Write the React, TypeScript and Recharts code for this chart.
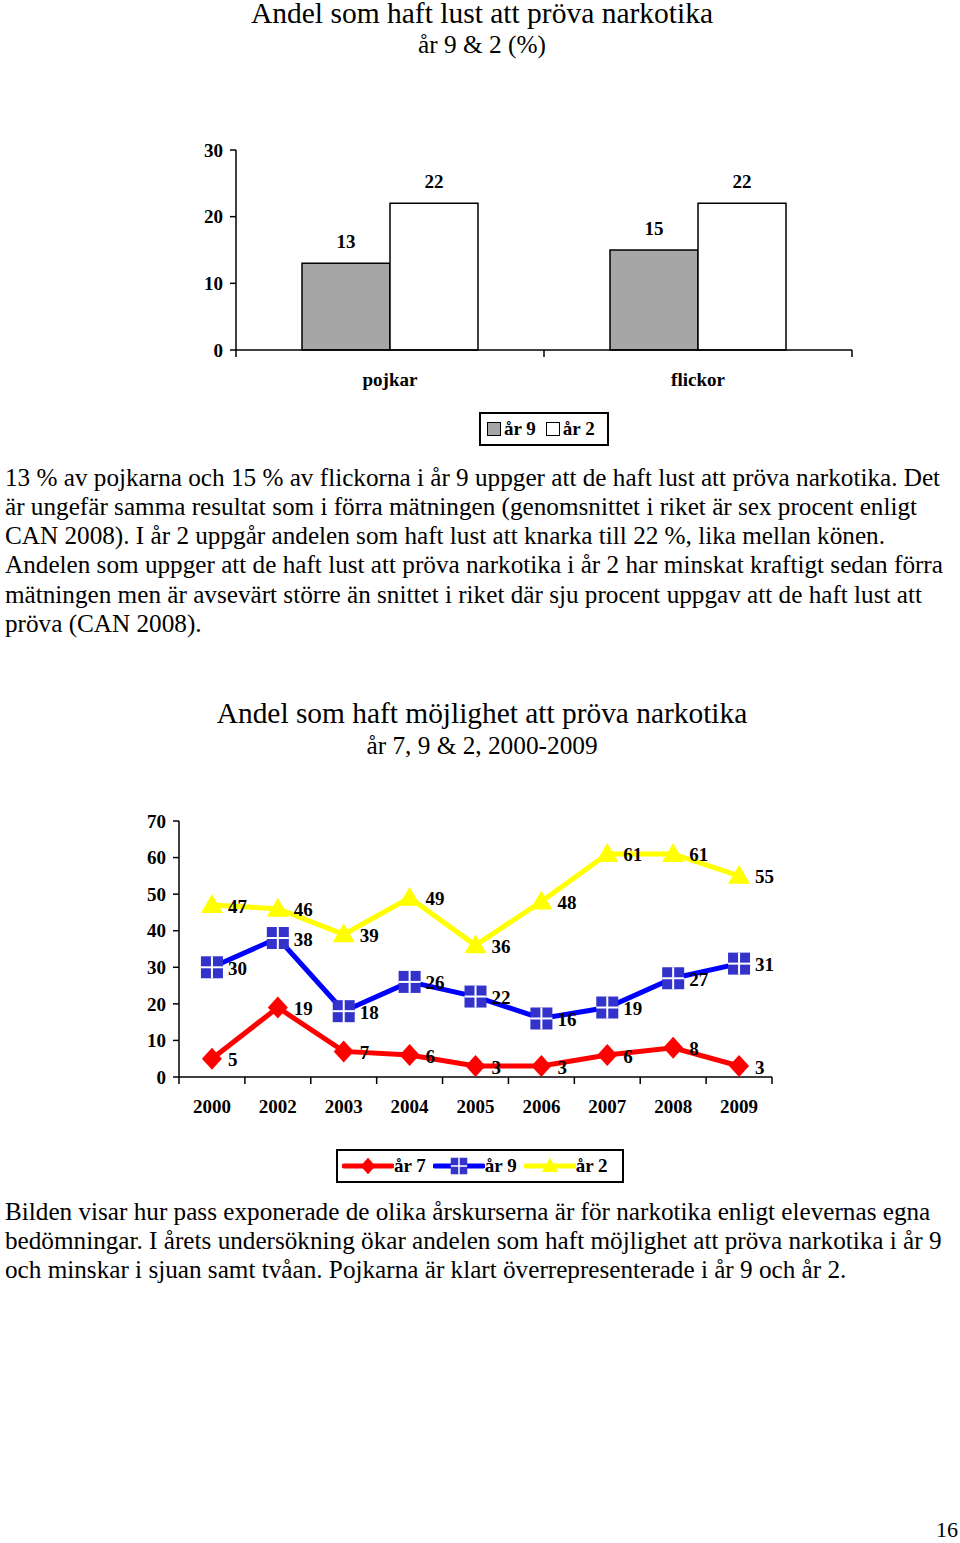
import React from 'react';
import { BarChart, Bar, LineChart, Line, XAxis, YAxis, LabelList } from 'recharts';

// --- chart 1: lust att pröva narkotika (%)
const genders = ['pojkar', 'flickor'];
const ar9Lust = [13, 15];
const ar2Lust = [22, 22];
const lustTicks = [0, 10, 20, 30];

// --- chart 2: möjlighet att pröva narkotika (%)
const years = ['2000', '2002', '2003', '2004', '2005', '2006', '2007', '2008', '2009'];
const ar7Mojlighet = [5, 19, 7, 6, 3, 3, 6, 8, 3];
const ar9Mojlighet = [30, 38, 18, 26, 22, 16, 19, 27, 31];
const ar2Mojlighet = [47, 46, 39, 49, 36, 48, 61, 61, 55];
const mojlighetTicks = [0, 10, 20, 30, 40, 50, 60, 70];

const para1 = [
  '13 % av pojkarna och 15 % av flickorna i år 9 uppger att de haft lust att pröva narkotika. Det',
  'är ungefär samma resultat som i förra mätningen (genomsnittet i riket är sex procent enligt',
  'CAN 2008). I år 2 uppgår andelen som haft lust att knarka till 22 %, lika mellan könen.',
  'Andelen som uppger att de haft lust att pröva narkotika i år 2 har minskat kraftigt sedan förra',
  'mätningen men är avsevärt större än snittet i riket där sju procent uppgav att de haft lust att',
  'pröva (CAN 2008).',
];
const para2 = [
  'Bilden visar hur pass exponerade de olika årskurserna är för narkotika enligt elevernas egna',
  'bedömningar. I årets undersökning ökar andelen som haft möjlighet att pröva narkotika i år 9',
  'och minskar i sjuan samt tvåan. Pojkarna är klart överrepresenterade i år 9 och år 2.',
];

const lustData = genders.map((g, i) => ({ name: g, ar9: ar9Lust[i], ar2: ar2Lust[i] }));
const mojlighetData = years.map((y, i) => ({
  name: y,
  ar7: ar7Mojlighet[i],
  ar9: ar9Mojlighet[i],
  ar2: ar2Mojlighet[i],
}));

const serif = '"Liberation Serif", "Times New Roman", serif';
const GREY = '#a6a6a6';
const RED = '#ff0000';
const BLUE = '#0000ff';
const MARK_BLUE = '#3333cc';
const YELLOW = '#ffff00';

const tickFont = { fontFamily: serif, fontWeight: 'bold' as const, fontSize: 19, fill: '#000' };

function makeBoundaryTick(count: number, fallbackHalf: number) {
  return (props: any) => {
    const { x, y, payload, index } = props;
    const half = payload && payload.offset ? payload.offset : fallbackHalf;
    return (
      <g>
        <line x1={x - half} y1={y} x2={x - half} y2={y + 7} stroke="#000" strokeWidth={1.5} />
        {index === count - 1 && (
          <line x1={x + half} y1={y} x2={x + half} y2={y + 7} stroke="#000" strokeWidth={1.5} />
        )}
        <text x={x} y={y + 29} textAnchor="middle" dominantBaseline="central" {...tickFont}>
          {payload.value}
        </text>
      </g>
    );
  };
}

const Diamond = (props: any) => {
  const { cx, cy, index } = props;
  if (cx == null || cy == null) return <g key={'d' + index} />;
  return (
    <path
      key={'d' + index}
      d={`M${cx},${cy - 11}L${cx + 10},${cy}L${cx},${cy + 11}L${cx - 10},${cy}Z`}
      fill={RED}
    />
  );
};

const CrossSquare = (props: any) => {
  const { cx, cy, index } = props;
  if (cx == null || cy == null) return <g key={'s' + index} />;
  return (
    <g key={'s' + index}>
      <rect x={cx - 11} y={cy - 11} width={22} height={22} fill={MARK_BLUE} />
      <line x1={cx - 11} y1={cy} x2={cx + 11} y2={cy} stroke="#fff" strokeWidth={2} />
      <line x1={cx} y1={cy - 11} x2={cx} y2={cy + 11} stroke="#fff" strokeWidth={2} />
    </g>
  );
};

const Triangle = (props: any) => {
  const { cx, cy, index } = props;
  if (cx == null || cy == null) return <g key={'t' + index} />;
  return (
    <path
      key={'t' + index}
      d={`M${cx},${cy - 11}L${cx + 11},${cy + 8}L${cx - 11},${cy + 8}Z`}
      fill={YELLOW}
    />
  );
};

const lineLabel = (props: any) => {
  const vb = props.viewBox || {};
  const x = props.x != null ? props.x : vb.x;
  const y = props.y != null ? props.y : vb.y;
  if (x == null || y == null) return null;
  return (
    <text x={x + 16} y={y + 1} textAnchor="start" dominantBaseline="central" {...tickFont}>
      {props.value}
    </text>
  );
};

// text line placed by its baseline
function Txt({ base, size, children, left = 5, center = false }: any) {
  return (
    <div
      style={{
        position: 'absolute',
        top: base - 0.7375 * size,
        left: center ? 2 : left,
        width: center ? 960 : undefined,
        textAlign: center ? 'center' : 'left',
        fontFamily: serif,
        fontSize: size,
        lineHeight: `${0.8 * size}px`,
        whiteSpace: 'nowrap',
        color: '#000',
      }}
    >
      {children}
    </div>
  );
}

function LustLegend() {
  const items = [
    { label: 'år 9', fill: GREY },
    { label: 'år 2', fill: '#fff' },
  ];
  return (
    <div
      style={{
        position: 'absolute',
        left: 479,
        top: 412,
        width: 120,
        height: 30,
        border: '2px solid #000',
        display: 'flex',
        alignItems: 'center',
        paddingLeft: 6,
        boxSizing: 'content-box',
      }}
    >
      {items.map((it) => (
        <div key={it.label} style={{ display: 'flex', alignItems: 'center', marginRight: 10 }}>
          <div style={{ width: 12, height: 12, background: it.fill, border: '1.5px solid #000', marginRight: 3 }} />
          <span style={{ fontFamily: serif, fontWeight: 'bold', fontSize: 19 }}>{it.label}</span>
        </div>
      ))}
    </div>
  );
}

function MojlighetLegend() {
  const items = [
    { label: 'år 7', color: RED, Mark: Diamond },
    { label: 'år 9', color: BLUE, Mark: CrossSquare },
    { label: 'år 2', color: YELLOW, Mark: Triangle },
  ];
  return (
    <div
      style={{
        position: 'absolute',
        left: 336,
        top: 1149,
        width: 280,
        height: 30,
        border: '2px solid #000',
        display: 'flex',
        alignItems: 'center',
        paddingLeft: 4,
        boxSizing: 'content-box',
      }}
    >
      {items.map((it, i) => (
        <div key={it.label} style={{ display: 'flex', alignItems: 'center', marginRight: 7 }}>
          <svg width={52} height={20} style={{ display: 'block' }}>
            <line x1={2} y1={10} x2={50} y2={10} stroke={it.color} strokeWidth={5} strokeLinecap="round" />
            <g transform="translate(26,10) scale(0.75) translate(-26,-10)">
              <it.Mark cx={26} cy={10} index={i} />
            </g>
          </svg>
          <span style={{ fontFamily: serif, fontWeight: 'bold', fontSize: 19 }}>{it.label}</span>
        </div>
      ))}
    </div>
  );
}

export default function App() {
  return (
    <div style={{ position: 'absolute', left: 0, top: 0, width: 960, height: 1543, background: '#fff', overflow: 'hidden' }}>
      <Txt base={23.5} size={29.5} center>Andel som haft lust att pröva narkotika</Txt>
      <Txt base={52.5} size={25.3} center>år 9 &amp; 2 (%)</Txt>

      <div style={{ position: 'absolute', left: 0, top: 120 }}>
        <BarChart
          width={960}
          height={280}
          data={lustData}
          margin={{ top: 30, right: 108, bottom: 20, left: 196 }}
          barGap={0}
        >
          <XAxis
            dataKey="name"
            height={30}
            interval={0}
            tickSize={0}
            tickMargin={0}
            tickLine={false}
            axisLine={{ stroke: '#000', strokeWidth: 1.5 }}
            tick={makeBoundaryTick(genders.length, 154)}
          />
          <YAxis
            width={40}
            domain={[0, 30]}
            ticks={lustTicks}
            interval={0}
            tickSize={6}
            tickMargin={7}
            axisLine={{ stroke: '#000', strokeWidth: 1.5 }}
            tickLine={{ stroke: '#000', strokeWidth: 1.5 }}
            tick={tickFont}
          />
          <Bar dataKey="ar9" barSize={88} fill={GREY} stroke="#000" strokeWidth={1.5} isAnimationActive={false}>
            <LabelList dataKey="ar9" position="top" offset={15} style={tickFont} />
          </Bar>
          <Bar dataKey="ar2" barSize={88} fill="#fff" stroke="#000" strokeWidth={1.5} isAnimationActive={false}>
            <LabelList dataKey="ar2" position="top" offset={15} style={tickFont} />
          </Bar>
        </BarChart>
      </div>

      <LustLegend />

      {para1.map((l, i) => (
        <Txt key={i} base={486.3 + i * 29.2} size={25.2}>{l}</Txt>
      ))}

      <Txt base={724} size={29.4} center>Andel som haft möjlighet att pröva narkotika</Txt>
      <Txt base={753.3} size={25.3} center>år 7, 9 &amp; 2, 2000-2009</Txt>

      <div style={{ position: 'absolute', left: 0, top: 790 }}>
        <LineChart
          width={960}
          height={340}
          data={mojlighetData}
          margin={{ top: 31, right: 188, bottom: 20, left: 139 }}
        >
          <XAxis
            dataKey="name"
            scale="band"
            height={33}
            interval={0}
            tickSize={0}
            tickMargin={0}
            tickLine={false}
            axisLine={{ stroke: '#000', strokeWidth: 1.5 }}
            tick={makeBoundaryTick(years.length, 33)}
          />
          <YAxis
            width={40}
            domain={[0, 70]}
            ticks={mojlighetTicks}
            interval={0}
            tickSize={6}
            tickMargin={7}
            axisLine={{ stroke: '#000', strokeWidth: 1.5 }}
            tickLine={{ stroke: '#000', strokeWidth: 1.5 }}
            tick={tickFont}
          />
          <Line dataKey="ar7" stroke={RED} strokeWidth={5} dot={Diamond} activeDot={false} isAnimationActive={false}>
            <LabelList dataKey="ar7" content={lineLabel} />
          </Line>
          <Line dataKey="ar9" stroke={BLUE} strokeWidth={5} dot={CrossSquare} activeDot={false} isAnimationActive={false}>
            <LabelList dataKey="ar9" content={lineLabel} />
          </Line>
          <Line dataKey="ar2" stroke={YELLOW} strokeWidth={5} dot={Triangle} activeDot={false} isAnimationActive={false}>
            <LabelList dataKey="ar2" content={lineLabel} />
          </Line>
        </LineChart>
      </div>

      <MojlighetLegend />

      {para2.map((l, i) => (
        <Txt key={i} base={1220.3 + i * 29.2} size={25.2}>{l}</Txt>
      ))}

      <Txt base={1537.5} left={936} size={22}>16</Txt>
    </div>
  );
}
